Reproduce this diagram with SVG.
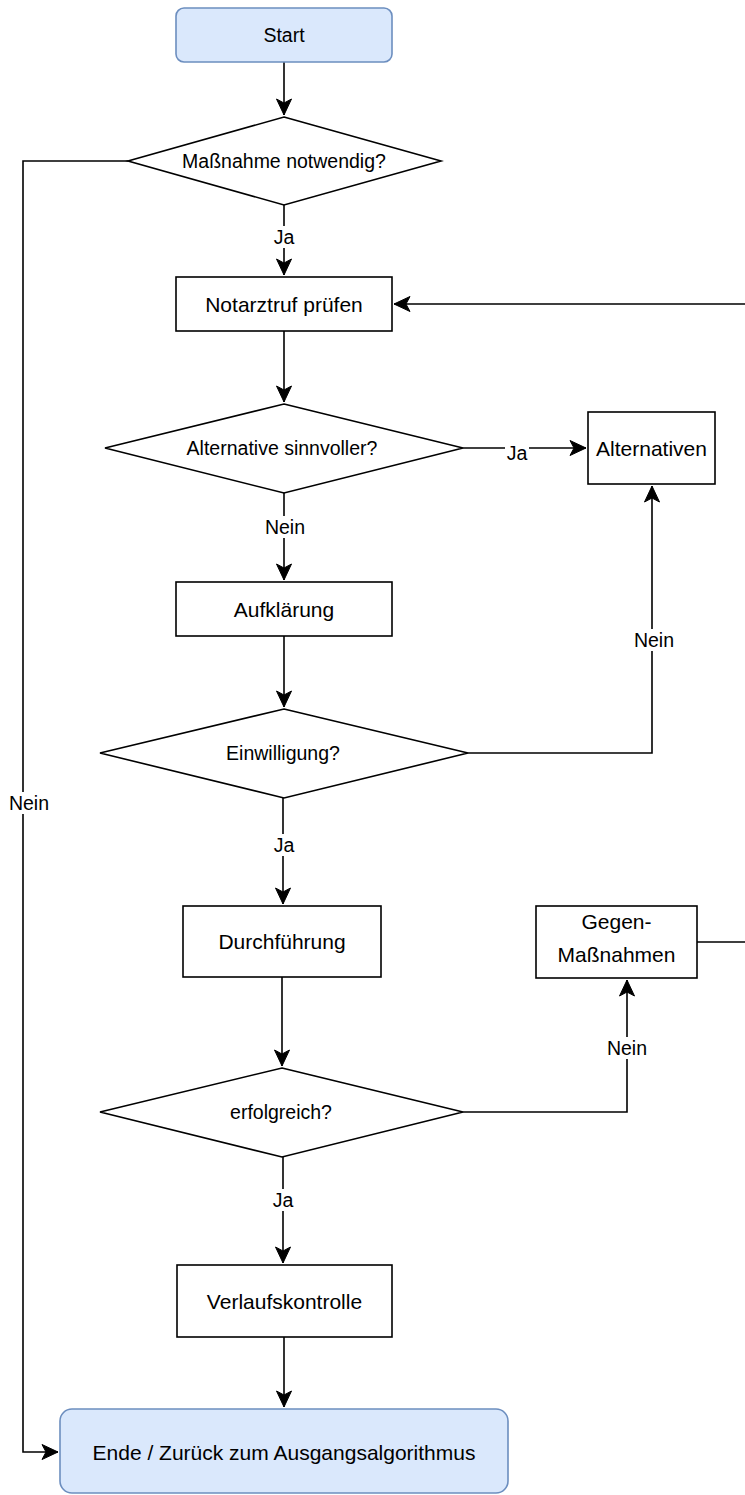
<svg xmlns="http://www.w3.org/2000/svg" width="745" height="1495" viewBox="0 0 745 1495">
  <style>
    .box { fill: #ffffff; stroke: #000000; stroke-width: 1.6; }
    .term { fill: #dae8fc; stroke: #6c8ebf; stroke-width: 1.6; }
    .edge { fill: none; stroke: #000000; stroke-width: 1.6; marker-end: url(#arrow); }
    text { font-family: "Liberation Sans", Arial, sans-serif; fill: #000000; text-anchor: middle; }
    .t12 { font-size: 19.5px; }
    .t13 { font-size: 21px; }
    .lbl { font-size: 19.5px; }
    .lblbg { fill: #ffffff; stroke: none; }
  </style>
  <defs>
    <marker id="arrow" markerUnits="userSpaceOnUse" markerWidth="20" markerHeight="20" viewBox="-18 -10 20 20" refX="0" refY="0" orient="auto">
      <path d="M0,0 L-16,-7.5 L-12,0 L-16,7.5 Z" fill="#000000" stroke="#000000" stroke-width="1"/>
    </marker>
  </defs>

  <!-- connectors -->
  <g id="connectors">
    <path class="edge" d="M284,62 L284,115"/>
    <path class="edge" d="M128,161 L23,161 L23,1452 L58,1452"/>
    <path class="edge" d="M284,205 L284,275"/>
    <path class="edge" d="M697,942 L752,942 L752,304 L394,304"/>
    <path class="edge" d="M284,331 L284,402"/>
    <path class="edge" d="M463,448 L586,448"/>
    <path class="edge" d="M284,493 L284,580"/>
    <path class="edge" d="M284,636 L284,707"/>
    <path class="edge" d="M468,753 L652,753 L652,486"/>
    <path class="edge" d="M283,798 L283,904"/>
    <path class="edge" d="M282,977 L282,1066"/>
    <path class="edge" d="M463,1112 L627,1112 L627,980"/>
    <path class="edge" d="M283,1157 L283,1263"/>
    <path class="edge" d="M284,1337 L284,1407"/>

    <!-- edge labels -->
    <rect class="lblbg" x="271" y="226" width="26" height="22"/>
    <text class="lbl" x="284" y="244">Ja</text>
    <rect class="lblbg" x="9" y="792" width="40" height="22"/>
    <text class="lbl" x="29" y="810">Nein</text>
    <rect class="lblbg" x="505" y="442" width="24" height="22"/>
    <text class="lbl" x="517" y="460">Ja</text>
    <rect class="lblbg" x="265" y="516" width="40" height="22"/>
    <text class="lbl" x="285" y="534">Nein</text>
    <rect class="lblbg" x="634" y="629" width="40" height="22"/>
    <text class="lbl" x="654" y="647">Nein</text>
    <rect class="lblbg" x="271" y="834" width="26" height="22"/>
    <text class="lbl" x="284" y="852">Ja</text>
    <rect class="lblbg" x="607" y="1037" width="40" height="22"/>
    <text class="lbl" x="627" y="1055">Nein</text>
    <rect class="lblbg" x="270" y="1189" width="26" height="22"/>
    <text class="lbl" x="283" y="1207">Ja</text>
  </g>

  <g id="start">
    <rect class="term" x="176" y="8" width="216" height="54" rx="8"/>
    <text class="t12" x="284" y="42">Start</text>
  </g>

  <g id="massnahme-notwendig">
    <polygon class="box" points="284,117 441,161 284,205 128,161"/>
    <text class="t12" x="284" y="168">Maßnahme notwendig?</text>
  </g>

  <g id="notarztruf">
    <rect class="box" x="176" y="277" width="216" height="54"/>
    <text class="t13" x="284" y="311.5">Notarztruf prüfen</text>
  </g>

  <g id="alternative-sinnvoller">
    <polygon class="box" points="284,404 463,448 284,493 105,448"/>
    <text class="t12" x="282" y="455">Alternative sinnvoller?</text>
  </g>

  <g id="alternativen">
    <rect class="box" x="588" y="412" width="127" height="72"/>
    <text class="t13" x="651.5" y="455.5">Alternativen</text>
  </g>

  <g id="aufklaerung">
    <rect class="box" x="176" y="582" width="216" height="54"/>
    <text class="t13" x="284" y="616.5">Aufklärung</text>
  </g>

  <g id="einwilligung">
    <polygon class="box" points="284,709 468,753 284,798 100,753"/>
    <text class="t12" x="283" y="760">Einwilligung?</text>
  </g>

  <g id="durchfuehrung">
    <rect class="box" x="183" y="906" width="198" height="71"/>
    <text class="t13" x="282" y="949">Durchführung</text>
  </g>

  <g id="gegenmassnahmen">
    <rect class="box" x="536" y="906" width="161" height="72"/>
    <text class="t13" x="616.5" y="929">Gegen-</text>
    <text class="t13" x="616.5" y="962">Maßnahmen</text>
  </g>

  <g id="erfolgreich">
    <polygon class="box" points="282,1068 463,1112 282,1157 100,1112"/>
    <text class="t12" x="281" y="1119">erfolgreich?</text>
  </g>

  <g id="verlaufskontrolle">
    <rect class="box" x="177" y="1265" width="215" height="72"/>
    <text class="t13" x="284.5" y="1308.5">Verlaufskontrolle</text>
  </g>

  <g id="ende">
    <rect class="term" x="60" y="1409" width="448" height="84" rx="12"/>
    <text class="t13" x="284" y="1459.5">Ende / Zurück zum Ausgangsalgorithmus</text>
  </g>
</svg>
